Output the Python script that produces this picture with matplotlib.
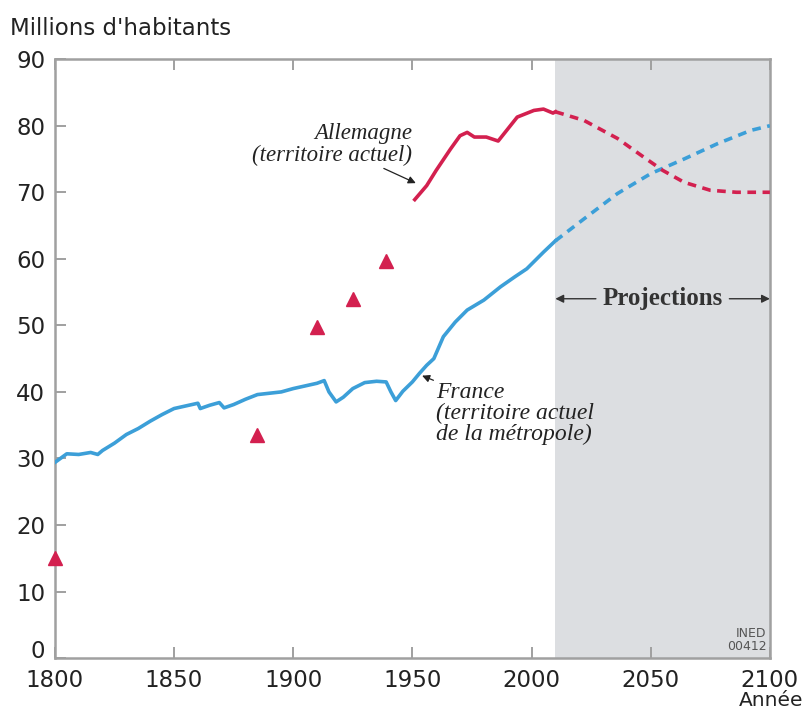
import matplotlib.pyplot as plt

# France (territoire actuel de la métropole), millions
fr_years = [1800, 1805, 1810, 1815, 1818, 1820, 1825, 1830, 1835, 1840, 1845, 1850,
            1855, 1860, 1861, 1865, 1869, 1871, 1875, 1880, 1885, 1890, 1895, 1900,
            1905, 1910, 1913, 1915, 1918, 1921, 1925, 1930, 1935, 1939, 1941, 1943,
            1946, 1950, 1953, 1956, 1959, 1963, 1968, 1973, 1980, 1987, 1993, 1998,
            2005, 2010]
fr_pop = [29.4, 30.7, 30.6, 30.9, 30.6, 31.2, 32.3, 33.6, 34.5, 35.6, 36.6, 37.5,
          37.9, 38.3, 37.5, 38.0, 38.4, 37.6, 38.1, 38.9, 39.6, 39.8, 40.0, 40.5,
          40.9, 41.3, 41.7, 40.0, 38.5, 39.2, 40.5, 41.4, 41.6, 41.5, 40.0, 38.7,
          40.1, 41.5, 42.8, 44.0, 45.0, 48.3, 50.5, 52.3, 53.8, 55.8, 57.3, 58.5,
          61.0, 62.7]

# Allemagne (territoire actuel)
de_years = [1951, 1956, 1960, 1966, 1970, 1973, 1976, 1981, 1986, 1990, 1994, 2001,
            2005, 2009, 2010]
de_pop = [68.9, 71.0, 73.3, 76.5, 78.5, 79.0, 78.3, 78.3, 77.7, 79.5, 81.3, 82.3,
          82.5, 81.9, 82.1]

# anciens recensements allemands (triangles)
de_old_years = [1800, 1885, 1910, 1925, 1939]
de_old_pop = [15.0, 33.6, 49.7, 53.9, 59.6]

# projections
fr_proj_years = [2010, 2022, 2036, 2050, 2064, 2078, 2092, 2100]
fr_proj_pop = [62.7, 66.0, 69.8, 72.8, 75.0, 77.3, 79.3, 80.0]
de_proj_years = [2010, 2022, 2036, 2047, 2055, 2064, 2075, 2086, 2100]
de_proj_pop = [82.1, 80.8, 78.1, 75.3, 73.3, 71.5, 70.3, 70.0, 70.0]

red = "#d3204f"
blue = "#3c9fd8"
txt = "#222222"

fig = plt.figure(figsize=(8.07, 7.13), dpi=100)
ax = fig.add_axes([0.068, 0.077, 0.886, 0.840])

ax.axvspan(2010, 2100, color="#dcdee1", zorder=0, lw=0)

ax.plot(fr_years, fr_pop, color=blue, lw=2.6, zorder=3)
ax.plot(de_years, de_pop, color=red, lw=2.6, zorder=3)
ax.plot(fr_proj_years, fr_proj_pop, color=blue, lw=2.6, ls=(0, (2.4, 1.8)), zorder=3)
ax.plot(de_proj_years, de_proj_pop, color=red, lw=2.6, ls=(0, (2.4, 1.8)), zorder=3)
ax.plot(de_old_years, de_old_pop, ls="none", marker="^", color=red, ms=10, zorder=4,
        clip_on=False)

ax.set_xlim(1800, 2100)
ax.set_ylim(0, 90)
ax.set_xticks(range(1800, 2101, 50))
ax.set_yticks(range(0, 91, 10))
ax.tick_params(direction="in", length=8, width=1.4, color="#a0a0a0",
               labelsize=16.5, labelcolor=txt, top=True)
ax.tick_params(axis="x", pad=8)
ax.tick_params(axis="y", pad=7)
ax.get_yticklabels()[0].set_va("baseline")
for s in ax.spines.values():
    s.set_color("#a0a0a0")
    s.set_linewidth(1.8)

fig.text(0.012, 0.96, "Millions d'habitants", fontsize=16.5, color=txt,
         ha="left", va="center")
fig.text(0.956, 0.004, "Année", fontsize=14.5, color=txt, ha="center",
         va="bottom")

serif = "Liberation Serif"
ax.annotate("Allemagne\n(territoire actuel)", xy=(1952.5, 71.2), xytext=(1949.8, 74.0),
            ha="right", va="bottom", fontsize=16.5, style="italic", family=serif,
            color=txt, linespacing=1.0,
            arrowprops=dict(arrowstyle="-|>", color=txt, lw=0.9,
                            mutation_scale=11, shrinkA=0, shrinkB=2))
ax.annotate("France\n(territoire actuel\nde la métropole)", xy=(1953, 42.6),
            xytext=(1960, 41.5), ha="left", va="top", fontsize=17, style="italic",
            family=serif, color=txt, linespacing=1.0,
            arrowprops=dict(arrowstyle="-|>", color=txt, lw=0.9,
                            mutation_scale=11, shrinkA=0, shrinkB=2))

ax.text(2055, 54.0, "Projections", ha="center", va="center", fontsize=18,
        family=serif, weight="bold", color="#333333")
ax.annotate("", xy=(2010, 54.0), xytext=(2027, 54.0),
            arrowprops=dict(arrowstyle="-|>", color="#333333", lw=1.0,
                            mutation_scale=12, shrinkA=0, shrinkB=0))
ax.annotate("", xy=(2100, 54.0), xytext=(2083, 54.0),
            arrowprops=dict(arrowstyle="-|>", color="#333333", lw=1.0,
                            mutation_scale=12, shrinkA=0, shrinkB=0))

ax.text(2098.5, 0.8, "INED\n00412", ha="right", va="bottom", fontsize=9,
        family=["Liberation Sans Narrow", "DejaVu Sans"], color="#555555",
        linespacing=1.0)

fig.savefig("out.png", dpi=100)
